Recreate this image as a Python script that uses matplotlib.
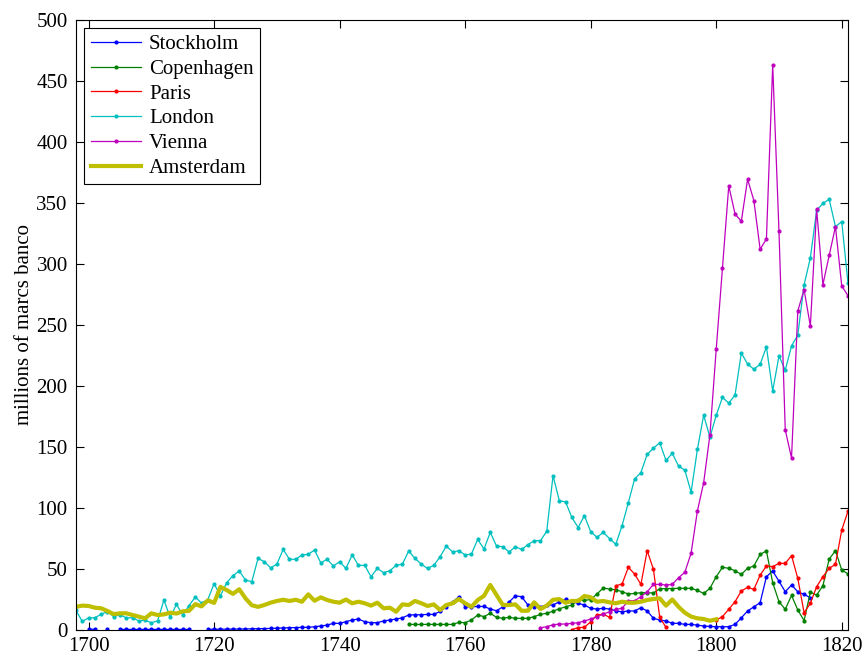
import numpy as np
import matplotlib
matplotlib.use("Agg")
import matplotlib.pyplot as plt

plt.rcParams['font.family'] = ['Liberation Serif', 'DejaVu Serif']

nan = np.nan

# Stockholm, 1700-1815
stockholm_start = 1700
stockholm = [0.6, 0.6, nan, 0.5, nan, 0.5, 0.5, 0.5, 0.5, 0.5,
             0.5, 0.5, 0.5, 0.5, 0.5, 0.5, 0.5, nan, nan, 0.6,
             0.6, 0.7, 0.7, 0.8, 0.8, 0.9, 1.0, 1.1, 1.2, 1.3,
             1.5, 1.7, 1.9, 2.0, 2.2, 2.2, 2.7, 3.3, 4.0, 5.5,
             5.5, 6.8, 8.2, 9.0, 6.8, 6.0, 6.0, 7.4, 8.2, 9.0,
             10.0, 12.3, 12.5, 12.5, 12.8, 12.8, 15.3, 19.0, 23.0, 27.3,
             19.0, 19.0, 19.3, 19.3, 17.2, 15.8, 19.0, 23.0, 28.0, 27.3,
             20.5, 19.0, 19.0, 20.5, 20.5, 23.2, 25.1, 23.2, 21.9, 20.5,
             17.8, 17.2, 17.8, 17.2, 15.6, 15.0, 15.6, 15.6, 18.3, 15.6,
             9.6, 8.2, 7.4, 5.5, 5.5, 4.6, 4.6, 4.0, 3.3, 2.9,
             2.7, 2.7, 2.7, 4.6, 10.0, 15.6, 19.0, 22.4, 43.7, 48.4,
             40.0, 31.4, 36.9, 31.4, 29.2, 26.5]

# Copenhagen, 1751-1821
copenhagen_start = 1751
copenhagen = [4.6, 4.6, 4.6, 4.6, 4.6, 4.6, 4.6, 4.6, 6.3,
              6.0, 8.2, 12.3, 11.0, 13.7, 10.4, 9.6, 10.4, 9.6, 9.6,
              9.6, 11.0, 12.8, 13.7, 15.5, 17.4, 19.0, 20.5, 24.6, 24.3,
              25.0, 29.5, 34.5, 33.5, 33.0, 31.4, 29.5, 30.0, 30.6, 30.6,
              30.3, 33.8, 34.0, 34.0, 34.2, 34.2, 34.2, 32.5, 30.0, 34.2,
              43.7, 51.4, 50.6, 48.6, 45.6, 50.6, 52.5, 62.0, 64.8, 38.8,
              23.2, 17.0, 28.4, 16.4, 7.7, 31.0, 28.7, 36.3, 58.2, 65.0,
              49.2, 46.0]

# Paris, 1777-1821 (no data 1793-1799)
paris_start = 1777
paris = [0.3, 2.0, 2.2, 6.8, 12.3, 13.0, 10.4, 36.3, 37.7, 51.4,
         45.9, 37.4, 65.0, 49.7, 10.4, 2.2,
         nan, nan, nan, nan, nan, nan, nan,
         8.2, 11.0, 17.0, 23.2, 32.0, 35.0, 33.3, 45.0, 52.5, 52.0,
         54.6, 54.6, 61.0, 42.3, 14.2, 21.9, 35.5, 43.7, 50.6, 53.8,
         82.0, 97.5]

# London, 1698-1821
london_start = 1698
london = [16.0, 7.0, 10.0, 10.0, 13.0, 15.0, 11.0, 12.5, 10.0, 10.0,
          7.5, 8.0, 6.0, 7.5, 24.6, 10.4, 21.0, 12.3, 20.0, 27.0,
          22.0, 25.0, 38.0, 28.0, 38.8, 44.5, 48.4, 41.0, 39.6, 58.7,
          56.0, 51.0, 54.0, 66.0, 58.0, 58.0, 61.5, 62.0, 65.6, 55.0,
          58.0, 52.5, 56.0, 50.5, 61.5, 53.0, 53.0, 43.7, 50.5, 47.0,
          48.6, 53.0, 54.0, 64.8, 58.7, 54.0, 50.5, 53.0, 60.0, 68.8,
          64.0, 65.0, 61.5, 62.3, 74.3, 66.4, 80.0, 68.8, 68.3, 64.0,
          68.3, 66.0, 70.0, 73.2, 73.2, 81.0, 126.5, 106.0, 105.0, 92.3,
          84.0, 93.7, 80.6, 76.0, 80.0, 75.0, 70.3, 85.5, 104.4, 123.8,
          129.0, 144.0, 149.0, 153.5, 139.0, 144.8, 134.4, 131.0, 113.0, 148.0,
          176.0, 158.0, 176.0, 190.7, 186.0, 192.6, 227.0, 218.0, 213.7, 217.8,
          232.0, 196.0, 224.6, 213.0, 232.8, 241.8, 282.8, 305.0, 344.0, 349.7,
          353.0, 330.6, 334.7, 284.0]

# Vienna, 1772-1821
vienna_start = 1772
vienna = [1.9, 2.7, 4.3, 4.9, 4.9, 5.5, 6.0, 7.4,
          9.0, 11.0, 13.0, 15.0, 17.0, 17.8, 24.0, 24.0, 27.3, 31.4,
          37.4, 37.4, 36.9, 37.4, 42.9, 47.3, 63.0, 97.5, 120.7, 160.0,
          230.0, 297.0, 364.0, 341.0, 335.0, 369.4, 352.0, 312.0, 320.5, 463.0,
          327.0, 164.0, 141.0, 261.5, 279.0, 249.0, 345.0, 283.0, 307.0, 330.6,
          282.0, 274.0]

# Amsterdam, 1698-1800
amsterdam_start = 1698
amsterdam = [19.0, 20.0, 19.7, 18.3, 17.8, 15.6, 13.0, 13.7, 13.7, 12.3,
             11.0, 9.6, 13.7, 12.3, 12.8, 14.2, 13.5, 15.3, 15.7, 21.2,
             19.4, 24.3, 22.2, 35.3, 32.8, 29.6, 33.4, 26.0, 20.3, 19.0,
             20.5, 22.4, 23.8, 24.8, 23.8, 24.8, 23.2, 29.2, 24.0, 26.8,
             24.6, 23.2, 22.4, 25.0, 21.9, 23.2, 21.9, 20.0, 22.4, 17.8,
             18.3, 15.0, 21.0, 20.5, 23.8, 22.0, 19.7, 21.0, 16.4, 20.5,
             21.9, 25.4, 21.9, 19.0, 24.6, 28.0, 36.9, 28.7, 20.5, 20.5,
             21.0, 15.8, 15.8, 22.7, 17.2, 20.0, 24.8, 25.3, 22.4, 23.8,
             23.8, 27.9, 26.8, 23.2, 23.8, 22.7, 21.9, 23.2, 22.4, 22.4,
             23.2, 24.6, 25.4, 26.0, 20.0, 25.0, 19.0, 14.2, 11.0, 9.6,
             9.0, 7.6, 8.8]


def years(start, vals):
    return np.arange(start, start + len(vals))


fig = plt.figure(figsize=(8.64, 6.56), dpi=100)
ax = fig.add_axes([0.088, 0.0396, 0.8935, 0.93])

lw = 0.9
ms = 4
ax.plot(years(stockholm_start, stockholm), stockholm, '.-', color=(0, 0, 1),
        lw=lw, ms=ms, label='Stockholm')
ax.plot(years(copenhagen_start, copenhagen), copenhagen, '.-', color=(0, 0.5, 0),
        lw=lw, ms=ms, label='Copenhagen')
ax.plot(years(paris_start, paris), paris, '.-', color=(1, 0, 0),
        lw=lw, ms=ms, label='Paris')
ax.plot(years(london_start, london), london, '.-', color=(0, 0.75, 0.75),
        lw=lw, ms=ms, label='London')
ax.plot(years(vienna_start, vienna), vienna, '.-', color=(0.75, 0, 0.75),
        lw=lw, ms=ms, label='Vienna')
ax.plot(years(amsterdam_start, amsterdam), amsterdam, '-', color=(0.75, 0.75, 0),
        lw=3, label='Amsterdam')

ax.set_xlim(1698, 1821)
ax.set_ylim(0, 500)
ax.set_xticks(np.arange(1700, 1821, 20))
ax.set_yticks(np.arange(0, 501, 50))
ax.tick_params(direction='in', top=True, right=True, labelsize=15, length=6, width=0.8)
ax.tick_params(axis='y', pad=6)
ax.tick_params(axis='x', pad=5)
ax.set_ylabel('millions of marcs banco', fontsize=15, labelpad=2)

leg = ax.legend(loc='upper left', fontsize=15, fancybox=False, framealpha=1,
                edgecolor='black', handlelength=2.4, labelspacing=0.25,
                borderpad=0.3, handletextpad=0.4, borderaxespad=0.4)
leg.get_frame().set_linewidth(0.8)

fig.savefig('out.png', dpi=100)
